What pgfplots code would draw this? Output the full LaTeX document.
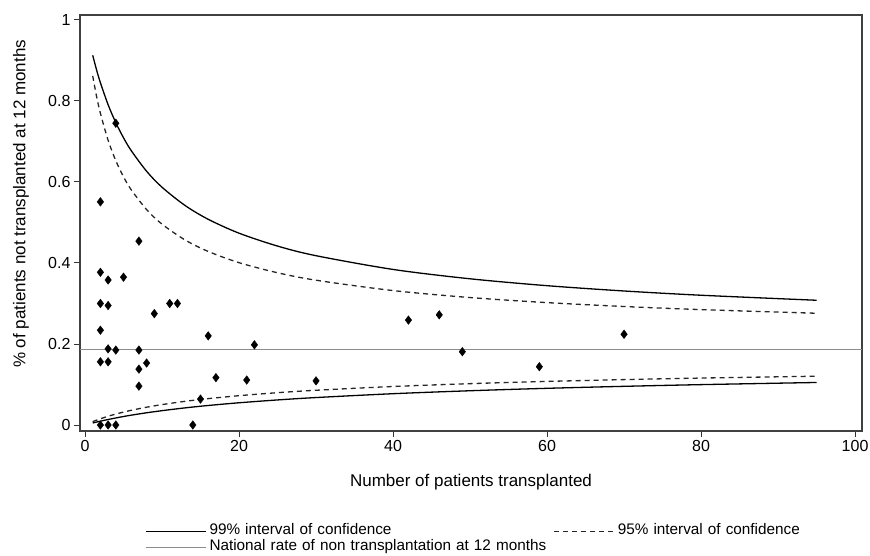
\documentclass[border=0pt]{standalone}
\usepackage{fontspec}
\setmainfont{Liberation Sans}
\usepackage{pgfplots}
\usepackage{pgfplotstable}
\pgfplotsset{compat=1.18}

% funnel limits around the national rate (0.186)
\pgfplotstableread{
n    u99    l99    u95    l95
1    0.9128 0.0050 0.8620 0.0083
1.5  0.8769 0.0073 0.8117 0.0120
2    0.8451 0.0095 0.7696 0.0154
3    0.7908 0.0136 0.7031 0.0216
4    0.7464 0.0174 0.6526 0.0270
5    0.7092 0.0210 0.6129 0.0319
6    0.6775 0.0243 0.5808 0.0363
8    0.6265 0.0302 0.5318 0.0440
10   0.5871 0.0354 0.4959 0.0504
13   0.5419 0.0423 0.4568 0.0585
16   0.5079 0.0482 0.4285 0.0651
20   0.4736 0.0549 0.4008 0.0724
25   0.4418 0.0619 0.3759 0.0798
30   0.4180 0.0678 0.3575 0.0858
40   0.3841 0.0773 0.3319 0.0951
50   0.3610 0.0846 0.3147 0.1021
60   0.3440 0.0906 0.3022 0.1076
70   0.3309 0.0955 0.2926 0.1121
80   0.3204 0.0997 0.2849 0.1159
95   0.3080 0.1050 0.2759 0.1205
}\limits

\pgfplotstableread{
n  rate
4  0.745
2  0.551
7  0.454
2  0.377
3  0.358
5  0.365
2  0.300
3  0.295
9  0.275
11 0.300
12 0.300
2  0.234
16 0.220
22 0.198
3  0.188
4  0.185
7  0.185
2  0.156
3  0.156
8  0.153
7  0.138
7  0.096
17 0.117
21 0.111
15 0.064
2  0.000
3  0.000
4  0.000
14 0.000
30 0.109
42 0.259
46 0.272
49 0.181
59 0.144
70 0.224
}\centres

\begin{document}
\begin{tikzpicture}
\useasboundingbox (-80pt,-124pt) rectangle (790pt,431pt);
\begin{axis}[
  scale only axis,
  width=782pt, height=416pt,
  xmin=-0.65, xmax=100.9,
  ymin=-0.0148, ymax=1.0123,
  xtick={0,20,40,60,80,100},
  ytick={0,0.2,0.4,0.6,0.8,1},
  xtick pos=bottom, ytick pos=left,
  tick align=outside,
  major tick length=6pt,
  tick style={black!80, line width=1pt},
  axis line style={black!75, line width=1.3pt},
  /pgf/number format/assume math mode=true,
  ticklabel style={font=\fontsize{16}{18}\selectfont},
  label style={font=\fontsize{17}{20}\selectfont},
  xlabel={Number of patients transplanted},
  ylabel={\% of patients not transplanted at 12 months},
  xlabel style={at={(axis description cs:0.5,-0.1226)}, anchor=center},
  ylabel style={at={(axis description cs:-0.0754,0.546)}, anchor=center},
  legend columns=2,
  legend image code/.code={\draw[#1] (0pt,0pt) -- (60pt,0pt);},
  legend style={
    at={(axis description cs:0.0793,-0.2163)}, anchor=north west,
    draw=none, fill=none,
    font=\fontsize{15.3}{16}\selectfont,
    row sep=0pt, column sep=3pt,
    nodes={inner sep=0pt, text height=11pt, text depth=5pt,
           text width=341pt, align=left},
    cells={anchor=west},
  },
]
\addplot[black, line width=1.3pt, smooth] table[x=n, y=u99] {\limits};
\addlegendentry{99\% interval of confidence}
\addplot[black!85, line width=1.3pt, dash pattern=on 5pt off 4pt, smooth] table[x=n, y=u95] {\limits};
\addlegendentry{95\% interval of confidence}
\addplot[black!45, line width=1.1pt] coordinates {(-0.65,0.186) (100.9,0.186)};
\addlegendentry{National rate of non transplantation at 12 months}

\addplot[black, line width=1.3pt, smooth, forget plot] table[x=n, y=l99] {\limits};
\addplot[black!85, line width=1.3pt, dash pattern=on 5pt off 4pt, smooth, forget plot] table[x=n, y=l95] {\limits};
\addplot[only marks, mark=diamond*, mark size=4.3pt, black, forget plot] table[x=n, y=rate] {\centres};
\end{axis}
\end{tikzpicture}
\end{document}
